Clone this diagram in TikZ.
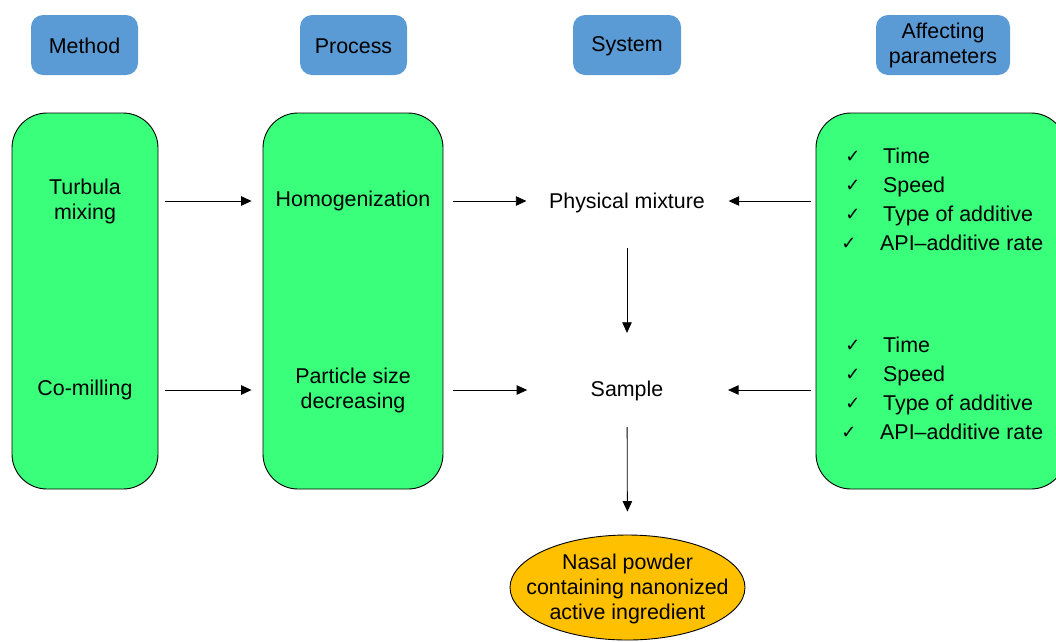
\documentclass[tikz,border=0pt]{standalone}
\usepackage{fontspec}
\setmainfont{Liberation Sans}
\newfontfamily\symfont{DejaVu Sans}
\usetikzlibrary{arrows.meta,shapes.geometric}
\definecolor{hdrblue}{RGB}{91,155,213}
\definecolor{boxgreen}{RGB}{57,255,122}
\definecolor{ovalgold}{RGB}{255,192,0}
\begin{document}
\begin{tikzpicture}[x=1pt,y=-1pt,
 every node/.style={font=\fontsize{21.4}{25}\selectfont},
 hdr/.style={fill=hdrblue, rounded corners=12pt, minimum height=60pt, inner sep=0pt, align=center},
 gbox/.style={fill=boxgreen, draw=black, line width=0.9pt, rounded corners=35pt, minimum height=376pt, inner sep=0pt},
 lbl/.style={align=center, inner sep=0pt},
 arr/.style={-{Triangle[length=10.5pt,width=9.5pt]}, line width=0.8pt},
 chk/.style={font=\symfont\fontsize{18}{20}\selectfont, inner sep=0pt},
 item/.style={anchor=west, inner sep=0pt, text height=15pt, text depth=5pt}]
\useasboundingbox (0,0) rectangle (1056,641);

% headers
\node[hdr, minimum width=107pt] (hmethod) at (84.5,45) {};
\node[hdr, minimum width=107pt] (hprocess) at (353.5,45) {};
\node[hdr, minimum width=108pt] (hsystem) at (627,45) {};
\node[hdr, minimum width=134pt] (haffect) at (943,45) {};
\node[lbl] at (84.5,46) {Method};
\node[lbl] at (353.5,46) {Process};
\node[lbl] at (627,46) {System};
\node[lbl] at (943,45.5) {Affecting\\parameters};

% green boxes
\node[gbox, minimum width=146pt] (lbox) at (85,301) {};
\node[gbox, minimum width=180pt] (pbox) at (353,301) {};
\node[gbox, minimum width=250pt] (rbox) at (941,301) {};

% texts
\node[lbl] (turb) at (85,201) {Turbula\\mixing};
\node[lbl] (comill) at (85,390) {Co-milling};
\node[lbl] (homog) at (353,201) {Homogenization};
\node[lbl] (psd) at (353,390) {Particle size\\decreasing};
\node[lbl] (pm) at (627,203) {Physical mixture};
\node[lbl] (sample) at (627,391) {Sample};

% final ellipse
\node[ellipse, draw=black, line width=0.9pt, fill=ovalgold, minimum width=235pt, minimum height=105pt, inner sep=0pt] (nasal) at (627.5,587.5) {};
\node[lbl] at (627.5,589) {Nasal powder\\containing nanonized\\active ingredient};

% checklists
\foreach \yy/\cx/\tx/\txt [count=\i] in {158/853/883/Time, 187/853/883/Speed, 216/853/883/Type of additive, 245/849/880/API--additive rate,
  347/853/883/Time, 376/853/883/Speed, 405/853/883/Type of additive, 434/849/880/API--additive rate}{
  \node[chk] (c\i) at (\cx,\yy-1) {✓};
  \node[item] (t\i) at (\tx,\yy) {\txt};
}

% arrows
\draw[arr, shorten <=7pt, shorten >=11pt] (lbox.east |- 0,201) -- (pbox.west |- 0,201);
\draw[arr, shorten <=7pt, shorten >=11pt] (lbox.east |- 0,390) -- (pbox.west |- 0,390);
\draw[arr, shorten <=10pt, shorten >=22.5pt] (pbox.east |- 0,201) -- (pm.west |- 0,201);
\draw[arr, shorten <=10pt, shorten >=63.4pt] (pbox.east |- 0,390) -- (sample.west |- 0,390);
\draw[arr, shorten <=5pt, shorten >=23.6pt] (rbox.west |- 0,201) -- (pm.east |- 0,201);
\draw[arr, shorten <=5pt, shorten >=64.6pt] (rbox.west |- 0,390) -- (sample.east |- 0,390);
\draw[arr, shorten <=35pt, shorten >=48pt] (pm.south) -- (sample.north);
\draw[arr, shorten <=26pt, shorten >=23pt] (sample.south) -- (nasal.north);
\end{tikzpicture}
\end{document}
